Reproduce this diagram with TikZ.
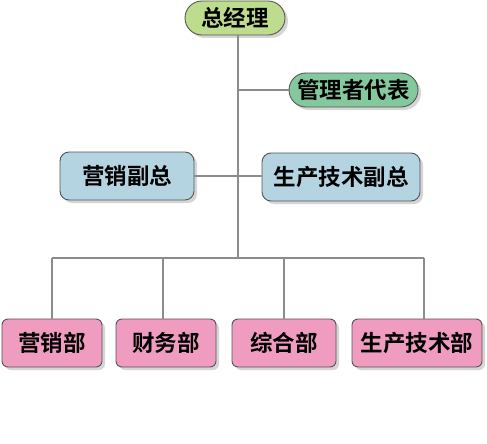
\documentclass[tikz,border=0pt]{standalone}
\usepackage{fontspec}
\newfontfamily\cjk{Noto Sans CJK SC}[BoldFont={Noto Sans CJK SC Bold}]
\usetikzlibrary{shadows}
\definecolor{gmgr}{HTML}{BEDC8E}
\definecolor{repgr}{HTML}{84C99E}
\definecolor{vpblue}{HTML}{B3D4E0}
\definecolor{deptpink}{HTML}{F09CC0}
\definecolor{edgegr}{HTML}{555555}
\definecolor{linegr}{HTML}{8C8C8C}
\tikzset{
  x=1pt, y=-1pt,
  basebox/.style={draw=edgegr, line width=0.9pt, inner sep=0pt, font=\cjk\bfseries\fontsize{22.5}{24}\selectfont,
    drop shadow={shadow xshift=3pt, shadow yshift=-3pt, opacity=0.3, fill=black!55}},
  pill/.style={basebox, rounded corners=17pt, minimum height=34pt},
  vpbox/.style={basebox, rounded corners=9pt, minimum height=48pt, fill=vpblue},
  deptbox/.style={basebox, rounded corners=6pt, minimum height=48pt, fill=deptpink},
  conn/.style={draw=linegr, line width=1.2pt}
}
\begin{document}
\begin{tikzpicture}
\useasboundingbox (0,0) rectangle (487,444);
\node[pill, fill=gmgr, minimum width=100pt] (zjl) at (235,18) {总经理};
\node[pill, fill=repgr, minimum width=129pt] (rep) at (353.5,90) {管理者代表};
\node[vpbox, minimum width=134pt] (yxfz) at (127,176) {营销副总};
\node[vpbox, minimum width=158pt] (scfz) at (341,177) {生产技术副总};
\node[deptbox, minimum width=100pt] (yxb) at (52,343) {营销部};
\node[deptbox, minimum width=100pt] (cwb) at (166,343) {财务部};
\node[deptbox, minimum width=104pt] (zhb) at (284,343) {综合部};
\node[deptbox, minimum width=130pt] (scb) at (417,343) {生产技术部};
\coordinate (trunk) at (238,258);
\coordinate (b1) at (52,258);
\coordinate (b2) at (163,258);
\coordinate (b3) at (284,258);
\coordinate (b4) at (424,258);
\draw[conn] (zjl.south -| trunk) -- (trunk);
\draw[conn] (rep.west -| trunk) -- (rep.west);
\draw[conn] (yxfz.east) -- (yxfz.east -| scfz.west);
\draw[conn] (b1) -- (b4);
\draw[conn] (b1) -- (b1 |- yxb.north);
\draw[conn] (b2) -- (b2 |- cwb.north);
\draw[conn] (b3) -- (b3 |- zhb.north);
\draw[conn] (b4) -- (b4 |- scb.north);
\end{tikzpicture}
\end{document}
